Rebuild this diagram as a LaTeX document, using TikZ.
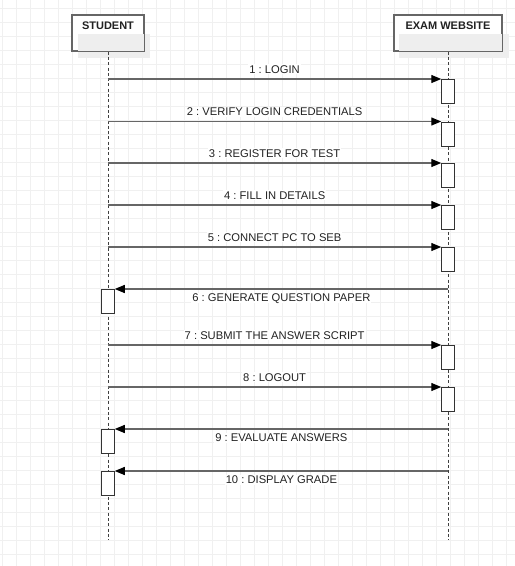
\documentclass[tikz,border=0pt]{standalone}
\usepackage{fontspec}
\setmainfont{Liberation Sans}
\usetikzlibrary{arrows.meta,positioning,calc}

\definecolor{linegray}{HTML}{666666}
\definecolor{shadowgray}{HTML}{EEEEEE}
\definecolor{gridgray}{HTML}{F0F0F0}
\definecolor{textgray}{HTML}{222222}

\tikzset{
    gridline/.style={draw=gridgray, line width=1.2pt},
    actor/.style={draw=linegray, line width=1.3pt, fill=white, minimum height=35.3pt, inner sep=0pt},
    actorname/.style={font=\fontsize{11}{13}\selectfont\bfseries, text=textgray, inner sep=0pt},
    lifeline/.style={draw=black!75, line width=0.9pt, dash pattern=on 3pt off 2.3pt},
    bar/.style={draw=black!80, fill=white, line width=1pt, minimum width=12.5pt, minimum height=24pt, inner sep=0pt, anchor=north},
    msg/.style={draw=linegray, line width=1.3pt, -{Triangle[length=10pt,width=8pt,color=black]}},
    msglabel/.style={font=\fontsize{11.2}{13}\selectfont, text=textgray, fill=white, inner sep=1pt, text height=8pt, text depth=0pt}
}

\begin{document}
\begin{tikzpicture}[x=1pt, y=-1pt]
    \useasboundingbox (0,0) rectangle (515,566);

    % Background grid
    \foreach \i in {0,...,36}
        \draw[gridline] (2.2+14*\i,0) -- (2.2+14*\i,566);
    \foreach \j in {0,...,39}
        \draw[gridline] (0,8.5+14*\j) -- (515,8.5+14*\j);

    % Actors
    \node[actor, minimum width=71pt] (student) at (108,33.3) {};
    \node[actor, minimum width=108pt] (website) at (448,33.3) {};
    \foreach \a in {student,website} {
        \fill[shadowgray] ($(\a.north west)+(6,19)$) rectangle ($(\a.south east)+(6,6)$);
        \draw[draw=linegray, line width=1.3pt] (\a.north west) rectangle (\a.south east);
    }
    \node[actorname, below=7pt of student.north] (studentname) {STUDENT};
    \node[actorname, below=7pt of website.north] (websitename) {EXAM WEBSITE};

    % Lifelines
    \coordinate (studentend) at (student.south |- 0,540);
    \coordinate (websiteend) at (website.south |- 0,540);
    \draw[lifeline] (student.south) -- (studentend);
    \draw[lifeline] (website.south) -- (websiteend);

    % Messages from the student to the website
    \foreach \n/\y/\txt in {1/79/LOGIN, 2/121.5/VERIFY LOGIN CREDENTIALS, 3/163/REGISTER FOR TEST,
                            4/205/FILL IN DETAILS, 5/247/CONNECT PC TO SEB,
                            7/345/SUBMIT THE ANSWER SCRIPT, 8/387/LOGOUT} {
        \node[bar] (wbar\n) at (website.south |- 0,\y) {};
        \coordinate (s\n) at (student.south |- wbar\n.north);
        \draw[msg] (s\n) -- (wbar\n.north west)
            node[msglabel, midway, above=4pt] (label\n) {\n\ :\ \txt};
    }

    % Replies from the website to the student
    \foreach \n/\y/\txt in {6/289/GENERATE QUESTION PAPER, 9/429/EVALUATE ANSWERS, 10/471/DISPLAY GRADE} {
        \node[bar] (sbar\n) at (student.south |- 0,\y) {};
        \coordinate (w\n) at (website.south |- sbar\n.north);
        \draw[msg] (w\n) -- (sbar\n.north east)
            node[msglabel, midway, below=3pt] (label\n) {\n\ :\ \txt};
    }
\end{tikzpicture}
\end{document}
